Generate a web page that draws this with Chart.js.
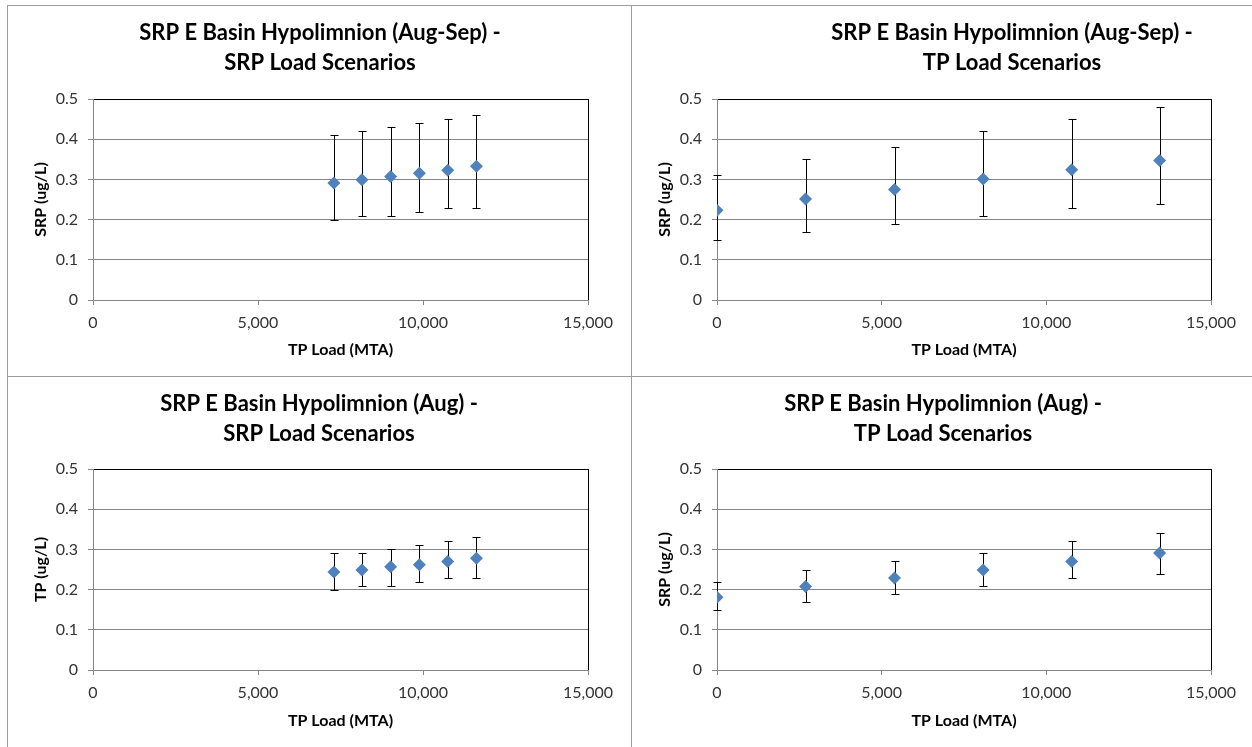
<!DOCTYPE html>
<html>
<head>
<meta charset="utf-8">
<script src="https://cdn.jsdelivr.net/npm/chart.js@4.4.1/dist/chart.umd.min.js"></script>
<style>
  html, body { margin: 0; padding: 0; background: #fff; }
  body { width: 1252px; height: 747px; position: relative; overflow: hidden; }
  .ln { position: absolute; background: #9c9c9c; }
  canvas { position: absolute; }
</style>
</head>
<body>
<div class="ln" style="left:7px;top:5px;width:1245px;height:1px;"></div>
<div class="ln" style="left:7px;top:5px;width:1px;height:742px;"></div>
<div class="ln" style="left:631px;top:5px;width:1px;height:742px;"></div>
<div class="ln" style="left:7px;top:376px;width:1245px;height:1px;"></div>
<canvas id="c1" width="623" height="370" style="left:8px;top:6px;"></canvas>
<canvas id="c2" width="620" height="370" style="left:632px;top:6px;"></canvas>
<canvas id="c3" width="623" height="370" style="left:8px;top:377px;"></canvas>
<canvas id="c4" width="620" height="370" style="left:632px;top:377px;"></canvas>
<script>
// ---------- data ----------
const xTickLabels = ['0', '5,000', '10,000', '15,000'];
const yTickLabels = ['0', '0.1', '0.2', '0.3', '0.4', '0.5'];

// SRP load scenarios (TP load, MTA)
const srpScenarioLoad = [7300, 8150, 9020, 9890, 10750, 11620];
// TP load scenarios (TP load, MTA)
const tpScenarioLoad = [0, 2690, 5390, 8080, 10770, 13440];

// Aug-Sep, SRP load scenarios
const augSepSrpMean = [0.291, 0.299, 0.307, 0.315, 0.323, 0.333];
const augSepSrpHigh = [0.41, 0.42, 0.43, 0.44, 0.45, 0.46];
const augSepSrpLow  = [0.20, 0.21, 0.21, 0.22, 0.23, 0.23];

// Aug-Sep, TP load scenarios
const augSepTpMean = [0.223, 0.251, 0.275, 0.301, 0.324, 0.347];
const augSepTpHigh = [0.31, 0.35, 0.38, 0.42, 0.45, 0.48];
const augSepTpLow  = [0.15, 0.17, 0.19, 0.21, 0.23, 0.24];

// Aug, SRP load scenarios
const augSrpMean = [0.244, 0.249, 0.257, 0.262, 0.270, 0.278];
const augSrpHigh = [0.29, 0.29, 0.30, 0.31, 0.32, 0.33];
const augSrpLow  = [0.20, 0.21, 0.21, 0.22, 0.23, 0.23];

// Aug, TP load scenarios
const augTpMean = [0.181, 0.208, 0.229, 0.249, 0.270, 0.291];
const augTpHigh = [0.22, 0.25, 0.27, 0.29, 0.32, 0.34];
const augTpLow  = [0.15, 0.17, 0.19, 0.21, 0.23, 0.24];

const titles = [
  ['SRP E Basin Hypolimnion (Aug-Sep) -', 'SRP Load Scenarios'],
  ['SRP E Basin Hypolimnion (Aug-Sep) -', 'TP Load Scenarios'],
  ['SRP E Basin Hypolimnion (Aug) -', 'SRP Load Scenarios'],
  ['SRP E Basin Hypolimnion (Aug) -', 'TP Load Scenarios']
];
const yTitles = ['SRP (ug/L)', 'SRP (ug/L)', 'TP (ug/L)', 'SRP (ug/L)'];
const xTitle = 'TP Load (MTA)';

// ---------- styling / layout ----------
const FONT = 'Lato, "Open Sans", sans-serif';
const MARKER = '#4F81BD';
const GRID = '#868686';

const panelTitle = {
  id: 'panelTitle',
  afterDraw(chart, args, opts) {
    const ctx = chart.ctx;
    ctx.save();
    ctx.font = 'bold 22px ' + FONT;
    ctx.fillStyle = '#000';
    ctx.textAlign = 'center';
    ctx.textBaseline = 'middle';
    opts.lines.forEach((t, i) => ctx.fillText(t, opts.cx, opts.y + i * opts.gap));
    ctx.restore();
  }
};

const errorBars = {
  id: 'errorBars',
  beforeDatasetsDraw(chart, args, opts) {
    const ctx = chart.ctx;
    const xs = chart.scales.x, ys = chart.scales.y;
    ctx.save();
    ctx.strokeStyle = '#000';
    ctx.lineWidth = 1;
    opts.x.forEach((xv, i) => {
      const px = Math.round(xs.getPixelForValue(xv)) + 0.5;
      const ph = Math.round(ys.getPixelForValue(opts.high[i])) + 0.5;
      const pl = Math.round(ys.getPixelForValue(opts.low[i])) + 0.5;
      ctx.beginPath();
      ctx.moveTo(px, ph); ctx.lineTo(px, pl);
      ctx.moveTo(px - 4, ph); ctx.lineTo(px + 4, ph);
      ctx.moveTo(px - 4, pl); ctx.lineTo(px + 4, pl);
      ctx.stroke();
    });
    ctx.restore();
  }
};

function makeChart(id, idx, xVals, mean, high, low, geom) {
  const pts = xVals.map((x, i) => ({ x: x, y: mean[i] }));
  return new Chart(document.getElementById(id), {
    type: 'scatter',
    data: {
      datasets: [{
        data: pts,
        pointStyle: 'rectRot',
        pointRadius: 6.5,
        pointHoverRadius: 6.5,
        backgroundColor: MARKER,
        borderColor: MARKER,
        borderWidth: 0
      }]
    },
    plugins: [errorBars, panelTitle],
    options: {
      responsive: false,
      animation: false,
      events: [],
      layout: { padding: { top: geom.top, right: geom.right, left: 0, bottom: 0 } },
      plugins: {
        legend: { display: false },
        tooltip: { enabled: false },
        title: { display: false },
        panelTitle: { lines: titles[idx], cx: geom.cx, y: 27, gap: 30 },
        errorBars: { x: xVals, high: high, low: low }
      },
      scales: {
        x: {
          type: 'linear',
          min: 0, max: 15000,
          afterFit: (s) => { s.height = geom.xh; },
          ticks: {
            stepSize: 5000,
            padding: 8,
            color: '#333',
            font: { family: FONT, size: 16 },
            maxRotation: 0,
            callback: (v, i) => xTickLabels[i]
          },
          grid: {
            color: (c) => (c.tick && c.tick.value === 15000) ? '#000' : 'rgba(0,0,0,0)',
            tickColor: GRID,
            tickLength: 5,
            lineWidth: 1
          },
          border: { display: true, color: GRID, width: 1 },
          title: {
            display: true, text: xTitle, color: '#000',
            font: { family: FONT, size: 16, weight: 'bold' },
            padding: { top: 0, bottom: 17 }
          }
        },
        y: {
          type: 'linear',
          min: 0, max: 0.5,
          afterFit: (s) => { s.width = 85; },
          ticks: {
            stepSize: 0.1,
            padding: 10,
            color: '#333',
            font: { family: FONT, size: 16 },
            callback: (v, i) => yTickLabels[i]
          },
          grid: {
            color: (c) => (c.tick && c.tick.value > 0.49) ? '#000' : GRID,
            tickColor: GRID,
            tickLength: 5,
            lineWidth: 1
          },
          border: { display: true, color: GRID, width: 1 },
          title: {
            display: true, text: yTitles[idx], color: '#000',
            font: { family: FONT, size: 16, weight: 'bold' },
            padding: { top: 23, bottom: 0 }
          }
        }
      }
    }
  });
}

function build() {
  makeChart('c1', 0, srpScenarioLoad, augSepSrpMean, augSepSrpHigh, augSepSrpLow,
    { top: 93, right: 43, xh: 76, cx: 312 });
  makeChart('c2', 1, tpScenarioLoad, augSepTpMean, augSepTpHigh, augSepTpLow,
    { top: 93, right: 41, xh: 76, cx: 380 });
  makeChart('c3', 2, srpScenarioLoad, augSrpMean, augSrpHigh, augSrpLow,
    { top: 92, right: 43, xh: 77, cx: 311 });
  makeChart('c4', 3, tpScenarioLoad, augTpMean, augTpHigh, augTpLow,
    { top: 92, right: 41, xh: 77, cx: 311 });
}

if (document.fonts && document.fonts.load) {
  Promise.all([
    document.fonts.load('bold 22px Lato'),
    document.fonts.load('16px Lato')
  ]).then(build, build);
} else {
  build();
}
</script>
</body>
</html>
